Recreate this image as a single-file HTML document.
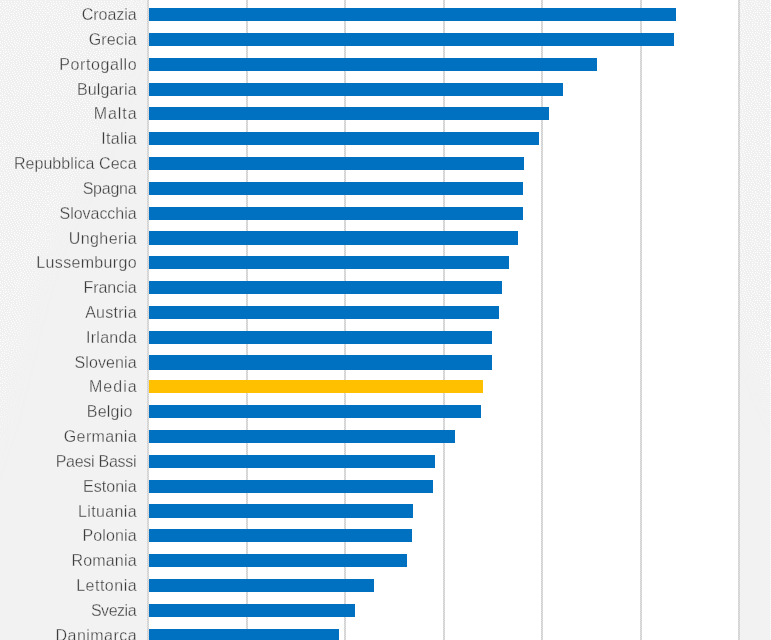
<!DOCTYPE html>
<html><head><meta charset="utf-8"><title>Chart</title>
<style>
html,body{margin:0;padding:0;}
body{width:771px;height:640px;overflow:hidden;background:#f2f2f2;position:relative;font-family:"Liberation Sans",sans-serif;}
#plot{position:absolute;left:147px;top:0;width:592px;height:640px;background:#fff;}
.g{position:absolute;top:0;width:2px;height:640px;background:repeating-conic-gradient(#d0d0d0 0 25%,#e0e0e0 0 50%) 0 0/2px 2px;}
#dz{position:absolute;left:0;top:0;}
.b{position:absolute;left:149px;height:13px;background:#0070c0;}
.b.m{background:#ffc000;}
.l{position:absolute;left:0;width:136.6px;text-align:right;font-size:16px;line-height:20px;height:20px;color:#3c3c3c;-webkit-text-stroke:0.3px #f1f1f1;white-space:nowrap;}
</style></head><body>
<svg id="dz" width="771" height="640" viewBox="0 0 771 640" shape-rendering="crispEdges"><defs><pattern id="dp" width="48" height="48" patternUnits="userSpaceOnUse"><path fill="#fff" d="M24 0h1v1h-1zM35 0h1v1h-1zM45 0h1v1h-1zM2 1h1v1h-1zM5 1h1v1h-1zM8 1h1v1h-1zM11 1h1v1h-1zM14 1h1v1h-1zM17 1h1v1h-1zM20 1h1v1h-1zM27 1h1v1h-1zM30 1h1v1h-1zM32 1h1v1h-1zM37 1h1v1h-1zM40 1h1v1h-1zM22 2h1v1h-1zM25 2h1v1h-1zM34 2h1v1h-1zM42 2h1v1h-1zM45 2h1v1h-1zM0 3h1v1h-1zM3 3h1v1h-1zM6 3h1v1h-1zM8 3h1v1h-1zM11 3h1v1h-1zM14 3h1v1h-1zM16 3h1v1h-1zM19 3h1v1h-1zM28 3h1v1h-1zM31 3h1v1h-1zM36 3h1v1h-1zM39 3h1v1h-1zM5 4h1v1h-1zM22 4h1v1h-1zM24 4h1v1h-1zM34 4h1v1h-1zM41 4h1v1h-1zM43 4h1v1h-1zM46 4h1v1h-1zM0 5h1v1h-1zM3 5h1v1h-1zM9 5h1v1h-1zM12 5h1v1h-1zM15 5h1v1h-1zM18 5h1v1h-1zM26 5h1v1h-1zM29 5h1v1h-1zM32 5h1v1h-1zM37 5h1v1h-1zM7 6h1v1h-1zM13 6h1v1h-1zM20 6h1v1h-1zM23 6h1v1h-1zM35 6h1v1h-1zM39 6h1v1h-1zM42 6h1v1h-1zM45 6h1v1h-1zM47 6h1v1h-1zM2 7h1v1h-1zM5 7h1v1h-1zM10 7h1v1h-1zM16 7h1v1h-1zM25 7h1v1h-1zM28 7h1v1h-1zM31 7h1v1h-1zM4 8h1v1h-1zM12 8h1v1h-1zM18 8h1v1h-1zM20 8h1v1h-1zM23 8h1v1h-1zM33 8h1v1h-1zM36 8h1v1h-1zM39 8h1v1h-1zM41 8h1v1h-1zM44 8h1v1h-1zM47 8h1v1h-1zM0 9h1v1h-1zM7 9h1v1h-1zM9 9h1v1h-1zM14 9h1v1h-1zM26 9h1v1h-1zM29 9h1v1h-1zM31 9h1v1h-1zM2 10h1v1h-1zM5 10h1v1h-1zM11 10h1v1h-1zM16 10h1v1h-1zM18 10h1v1h-1zM21 10h1v1h-1zM24 10h1v1h-1zM34 10h1v1h-1zM37 10h1v1h-1zM40 10h1v1h-1zM43 10h1v1h-1zM45 10h1v1h-1zM9 11h1v1h-1zM14 11h1v1h-1zM27 11h1v1h-1zM30 11h1v1h-1zM0 12h1v1h-1zM3 12h1v1h-1zM6 12h1v1h-1zM18 12h1v1h-1zM21 12h1v1h-1zM24 12h1v1h-1zM33 12h1v1h-1zM35 12h1v1h-1zM37 12h1v1h-1zM39 12h1v1h-1zM42 12h1v1h-1zM45 12h1v1h-1zM47 12h1v1h-1zM8 13h1v1h-1zM11 13h1v1h-1zM13 13h1v1h-1zM16 13h1v1h-1zM27 13h1v1h-1zM30 13h1v1h-1zM1 14h1v1h-1zM4 14h1v1h-1zM6 14h1v1h-1zM19 14h1v1h-1zM22 14h1v1h-1zM25 14h1v1h-1zM32 14h1v1h-1zM37 14h1v1h-1zM40 14h1v1h-1zM43 14h1v1h-1zM46 14h1v1h-1zM9 15h1v1h-1zM13 15h1v1h-1zM16 15h1v1h-1zM29 15h1v1h-1zM34 15h1v1h-1zM2 16h1v1h-1zM4 16h1v1h-1zM11 16h1v1h-1zM19 16h1v1h-1zM22 16h1v1h-1zM25 16h1v1h-1zM31 16h1v1h-1zM36 16h1v1h-1zM39 16h1v1h-1zM42 16h1v1h-1zM45 16h1v1h-1zM6 17h1v1h-1zM8 17h1v1h-1zM14 17h1v1h-1zM17 17h1v1h-1zM27 17h1v1h-1zM34 17h1v1h-1zM1 18h1v1h-1zM4 18h1v1h-1zM11 18h1v1h-1zM20 18h1v1h-1zM22 18h1v1h-1zM24 18h1v1h-1zM29 18h1v1h-1zM32 18h1v1h-1zM37 18h1v1h-1zM40 18h1v1h-1zM43 18h1v1h-1zM46 18h1v1h-1zM8 19h1v1h-1zM13 19h1v1h-1zM15 19h1v1h-1zM18 19h1v1h-1zM26 19h1v1h-1zM35 19h1v1h-1zM45 19h1v1h-1zM1 20h1v1h-1zM3 20h1v1h-1zM6 20h1v1h-1zM10 20h1v1h-1zM21 20h1v1h-1zM28 20h1v1h-1zM30 20h1v1h-1zM33 20h1v1h-1zM38 20h1v1h-1zM41 20h1v1h-1zM43 20h1v1h-1zM12 21h1v1h-1zM16 21h1v1h-1zM19 21h1v1h-1zM24 21h1v1h-1zM0 22h1v1h-1zM4 22h1v1h-1zM7 22h1v1h-1zM10 22h1v1h-1zM22 22h1v1h-1zM26 22h1v1h-1zM29 22h1v1h-1zM32 22h1v1h-1zM35 22h1v1h-1zM37 22h1v1h-1zM40 22h1v1h-1zM44 22h1v1h-1zM46 22h1v1h-1zM2 23h1v1h-1zM14 23h1v1h-1zM17 23h1v1h-1zM20 23h1v1h-1zM42 23h1v1h-1zM5 24h1v1h-1zM7 24h1v1h-1zM9 24h1v1h-1zM12 24h1v1h-1zM23 24h1v1h-1zM26 24h1v1h-1zM29 24h1v1h-1zM32 24h1v1h-1zM34 24h1v1h-1zM37 24h1v1h-1zM40 24h1v1h-1zM47 24h1v1h-1zM1 25h1v1h-1zM15 25h1v1h-1zM18 25h1v1h-1zM21 25h1v1h-1zM43 25h1v1h-1zM45 25h1v1h-1zM3 26h1v1h-1zM6 26h1v1h-1zM10 26h1v1h-1zM13 26h1v1h-1zM24 26h1v1h-1zM27 26h1v1h-1zM29 26h1v1h-1zM32 26h1v1h-1zM35 26h1v1h-1zM38 26h1v1h-1zM41 26h1v1h-1zM8 27h1v1h-1zM16 27h1v1h-1zM19 27h1v1h-1zM22 27h1v1h-1zM46 27h1v1h-1zM1 28h1v1h-1zM4 28h1v1h-1zM11 28h1v1h-1zM14 28h1v1h-1zM20 28h1v1h-1zM25 28h1v1h-1zM28 28h1v1h-1zM31 28h1v1h-1zM34 28h1v1h-1zM37 28h1v1h-1zM40 28h1v1h-1zM43 28h1v1h-1zM6 29h1v1h-1zM9 29h1v1h-1zM17 29h1v1h-1zM23 29h1v1h-1zM45 29h1v1h-1zM1 30h1v1h-1zM4 30h1v1h-1zM12 30h1v1h-1zM15 30h1v1h-1zM20 30h1v1h-1zM26 30h1v1h-1zM29 30h1v1h-1zM32 30h1v1h-1zM35 30h1v1h-1zM38 30h1v1h-1zM40 30h1v1h-1zM42 30h1v1h-1zM47 30h1v1h-1zM7 31h1v1h-1zM10 31h1v1h-1zM18 31h1v1h-1zM24 31h1v1h-1zM44 31h1v1h-1zM0 32h1v1h-1zM2 32h1v1h-1zM5 32h1v1h-1zM13 32h1v1h-1zM16 32h1v1h-1zM21 32h1v1h-1zM27 32h1v1h-1zM30 32h1v1h-1zM32 32h1v1h-1zM35 32h1v1h-1zM37 32h1v1h-1zM42 32h1v1h-1zM47 32h1v1h-1zM8 33h1v1h-1zM11 33h1v1h-1zM19 33h1v1h-1zM23 33h1v1h-1zM39 33h1v1h-1zM45 33h1v1h-1zM3 34h1v1h-1zM6 34h1v1h-1zM14 34h1v1h-1zM17 34h1v1h-1zM25 34h1v1h-1zM28 34h1v1h-1zM31 34h1v1h-1zM34 34h1v1h-1zM41 34h1v1h-1zM1 35h1v1h-1zM9 35h1v1h-1zM12 35h1v1h-1zM20 35h1v1h-1zM23 35h1v1h-1zM36 35h1v1h-1zM38 35h1v1h-1zM43 35h1v1h-1zM3 36h1v1h-1zM6 36h1v1h-1zM15 36h1v1h-1zM18 36h1v1h-1zM26 36h1v1h-1zM29 36h1v1h-1zM32 36h1v1h-1zM35 36h1v1h-1zM41 36h1v1h-1zM46 36h1v1h-1zM1 37h1v1h-1zM8 37h1v1h-1zM11 37h1v1h-1zM22 37h1v1h-1zM39 37h1v1h-1zM45 37h1v1h-1zM5 38h1v1h-1zM13 38h1v1h-1zM16 38h1v1h-1zM19 38h1v1h-1zM24 38h1v1h-1zM26 38h1v1h-1zM28 38h1v1h-1zM31 38h1v1h-1zM33 38h1v1h-1zM36 38h1v1h-1zM42 38h1v1h-1zM2 39h1v1h-1zM8 39h1v1h-1zM11 39h1v1h-1zM21 39h1v1h-1zM38 39h1v1h-1zM45 39h1v1h-1zM4 40h1v1h-1zM14 40h1v1h-1zM17 40h1v1h-1zM23 40h1v1h-1zM28 40h1v1h-1zM31 40h1v1h-1zM34 40h1v1h-1zM40 40h1v1h-1zM43 40h1v1h-1zM0 41h1v1h-1zM6 41h1v1h-1zM9 41h1v1h-1zM11 41h1v1h-1zM19 41h1v1h-1zM25 41h1v1h-1zM36 41h1v1h-1zM46 41h1v1h-1zM2 42h1v1h-1zM4 42h1v1h-1zM14 42h1v1h-1zM16 42h1v1h-1zM21 42h1v1h-1zM27 42h1v1h-1zM30 42h1v1h-1zM33 42h1v1h-1zM38 42h1v1h-1zM41 42h1v1h-1zM44 42h1v1h-1zM0 43h1v1h-1zM7 43h1v1h-1zM10 43h1v1h-1zM18 43h1v1h-1zM23 43h1v1h-1zM35 43h1v1h-1zM47 43h1v1h-1zM5 44h1v1h-1zM12 44h1v1h-1zM15 44h1v1h-1zM20 44h1v1h-1zM25 44h1v1h-1zM27 44h1v1h-1zM29 44h1v1h-1zM32 44h1v1h-1zM37 44h1v1h-1zM40 44h1v1h-1zM43 44h1v1h-1zM2 45h1v1h-1zM8 45h1v1h-1zM17 45h1v1h-1zM23 45h1v1h-1zM34 45h1v1h-1zM45 45h1v1h-1zM4 46h1v1h-1zM10 46h1v1h-1zM13 46h1v1h-1zM20 46h1v1h-1zM27 46h1v1h-1zM30 46h1v1h-1zM38 46h1v1h-1zM41 46h1v1h-1zM0 47h1v1h-1zM2 47h1v1h-1zM6 47h1v1h-1zM15 47h1v1h-1zM18 47h1v1h-1zM22 47h1v1h-1zM25 47h1v1h-1zM32 47h1v1h-1zM35 47h1v1h-1zM43 47h1v1h-1zM45 47h1v1h-1zM47 47h1v1h-1z"/></pattern><filter id="bl" x="-20%" y="-20%" width="140%" height="140%"><feGaussianBlur stdDeviation="11"/></filter><mask id="mk" maskUnits="userSpaceOnUse" x="0" y="0" width="771" height="640"><g filter="url(#bl)"><polygon fill="#fff" points="-40,-40 180,-40 140,20 96,150 46,250 26,320 2,420 -40,540"/><polygon fill="#fff" points="725,-40 811,-40 811,440 780,420 725,290"/></g></mask></defs>
<g mask="url(#mk)"><rect x="0" y="0" width="771" height="640" fill="#f0f0f0"/><rect x="0" y="0" width="148" height="640" fill="url(#dp)"/><rect x="739" y="0" width="32" height="640" fill="url(#dp)"/></g>
<path d="M770.5 0V640" stroke="#fff" stroke-width="1" stroke-dasharray="1 1"/></svg>
<div id="plot"></div>

<div class="g" style="left:147px"></div>
<div class="g" style="left:246px"></div>
<div class="g" style="left:344px"></div>
<div class="g" style="left:443px"></div>
<div class="g" style="left:541px"></div>
<div class="g" style="left:640px"></div>
<div class="g" style="left:738px"></div>
<div class="b" style="top:8px;height:13px;width:527px"></div>
<div class="l" style="top:4.8px;letter-spacing:-0.06px;margin-left:-0.06px">Croazia</div>
<div class="b" style="top:33px;height:13px;width:525px"></div>
<div class="l" style="top:29.8px;letter-spacing:0.14px;margin-left:0.14px">Grecia</div>
<div class="b" style="top:58px;height:13px;width:448px"></div>
<div class="l" style="top:54.8px;letter-spacing:0.59px;margin-left:0.59px">Portogallo</div>
<div class="b" style="top:83px;height:13px;width:414px"></div>
<div class="l" style="top:79.8px;letter-spacing:0.12px;margin-left:0.12px">Bulgaria</div>
<div class="b" style="top:107px;height:13px;width:400px"></div>
<div class="l" style="top:103.8px;letter-spacing:0.92px;margin-left:0.92px">Malta</div>
<div class="b" style="top:132px;height:13px;width:390px"></div>
<div class="l" style="top:128.8px;letter-spacing:0.31px;margin-left:0.31px">Italia</div>
<div class="b" style="top:157px;height:13px;width:375px"></div>
<div class="l" style="top:153.8px;letter-spacing:0.06px;margin-left:0.06px">Repubblica Ceca</div>
<div class="b" style="top:182px;height:13px;width:374px"></div>
<div class="l" style="top:178.8px;letter-spacing:-0.25px;margin-left:-0.25px">Spagna</div>
<div class="b" style="top:207px;height:13px;width:374px"></div>
<div class="l" style="top:203.8px;letter-spacing:-0.04px;margin-left:-0.04px">Slovacchia</div>
<div class="b" style="top:231px;height:14px;width:369px"></div>
<div class="l" style="top:228.8px;letter-spacing:0.41px;margin-left:0.41px">Ungheria</div>
<div class="b" style="top:256px;height:13px;width:360px"></div>
<div class="l" style="top:252.8px;letter-spacing:0.33px;margin-left:0.33px">Lussemburgo</div>
<div class="b" style="top:281px;height:13px;width:353px"></div>
<div class="l" style="top:277.8px;letter-spacing:-0.03px;margin-left:-0.03px">Francia</div>
<div class="b" style="top:306px;height:13px;width:350px"></div>
<div class="l" style="top:302.8px;letter-spacing:0.27px;margin-left:0.27px">Austria</div>
<div class="b" style="top:331px;height:13px;width:343px"></div>
<div class="l" style="top:327.8px;letter-spacing:0.28px;margin-left:0.28px">Irlanda</div>
<div class="b" style="top:355px;height:15px;width:343px"></div>
<div class="l" style="top:352.8px;letter-spacing:0.10px;margin-left:0.10px">Slovenia</div>
<div class="b m" style="top:380px;height:13px;width:334px"></div>
<div class="l" style="top:376.8px;letter-spacing:0.99px;margin-left:0.99px">Media</div>
<div class="b" style="top:405px;height:13px;width:332px"></div>
<div class="l" style="top:401.8px;letter-spacing:0.22px;margin-left:-3.98px">Belgio</div>
<div class="b" style="top:430px;height:13px;width:306px"></div>
<div class="l" style="top:426.8px;letter-spacing:0.36px;margin-left:0.36px">Germania</div>
<div class="b" style="top:455px;height:13px;width:286px"></div>
<div class="l" style="top:451.8px;letter-spacing:-0.27px;margin-left:-0.27px">Paesi Bassi</div>
<div class="b" style="top:480px;height:13px;width:284px"></div>
<div class="l" style="top:476.8px;letter-spacing:0.02px;margin-left:0.02px">Estonia</div>
<div class="b" style="top:504px;height:14px;width:264px"></div>
<div class="l" style="top:501.8px;letter-spacing:0.36px;margin-left:0.36px">Lituania</div>
<div class="b" style="top:529px;height:13px;width:263px"></div>
<div class="l" style="top:525.8px;letter-spacing:0.13px;margin-left:0.13px">Polonia</div>
<div class="b" style="top:554px;height:13px;width:258px"></div>
<div class="l" style="top:550.8px;letter-spacing:0.18px;margin-left:0.18px">Romania</div>
<div class="b" style="top:579px;height:13px;width:225px"></div>
<div class="l" style="top:575.8px;letter-spacing:0.50px;margin-left:0.50px">Lettonia</div>
<div class="b" style="top:604px;height:13px;width:206px"></div>
<div class="l" style="top:600.8px;letter-spacing:-0.47px;margin-left:-0.47px">Svezia</div>
<div class="b" style="top:629px;height:13px;width:190px"></div>
<div class="l" style="top:625.8px;letter-spacing:0.45px;margin-left:0.45px">Danimarca</div>
</body></html>
